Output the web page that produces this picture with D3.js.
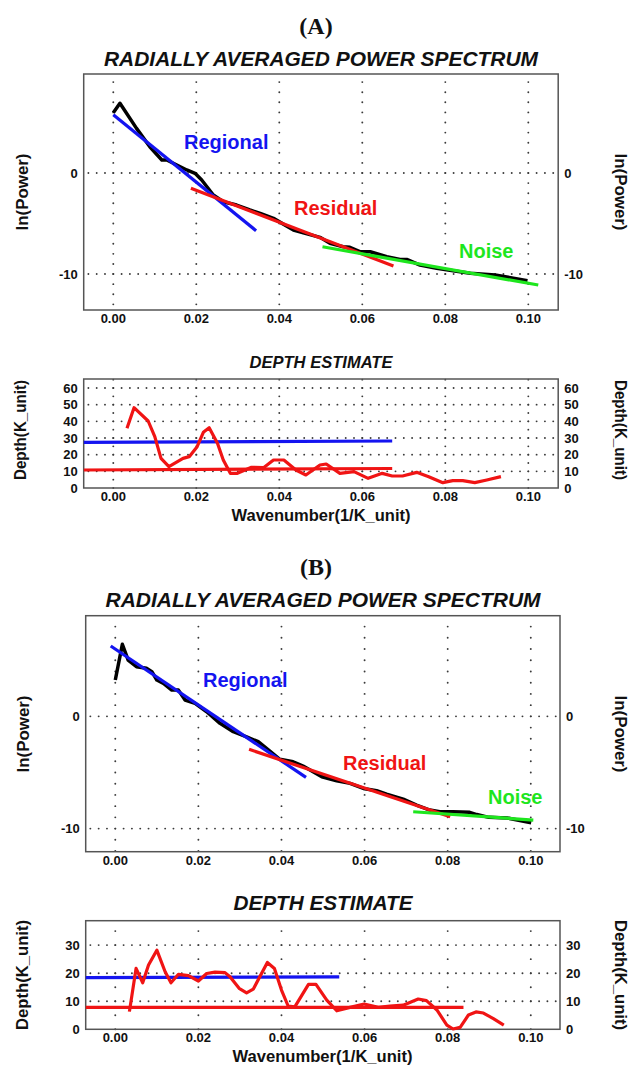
<!DOCTYPE html>
<html>
<head>
<meta charset="utf-8">
<script src="https://cdn.jsdelivr.net/npm/d3@7"></script>
<style>
  body { margin: 0; background: #fff; }
  svg text { font-family: "Liberation Sans", Arial, sans-serif; font-weight: bold; fill: #111; }
</style>
</head>
<body>
<svg id="fig" width="631" height="1067"></svg>
<script>
// ---- values ----
const xTicks = [0, 0.02, 0.04, 0.06, 0.08, 0.10]
const specTicks = [0, -10]
const depthTicksA = [0, 10, 20, 30, 40, 50, 60]
const depthTicksB = [0, 10, 20, 30]

// (A) radially averaged power spectrum
const specA_k = [0.0000, 0.0016, 0.0056, 0.0088, 0.0117, 0.0129, 0.0153, 0.0177, 0.0197, 0.0213, 0.0241, 0.0265, 0.0297, 0.0329, 0.0354, 0.0386, 0.0434, 0.0458, 0.0498, 0.0522, 0.0554, 0.0570, 0.0594, 0.0619, 0.0659, 0.0691, 0.0707, 0.0739, 0.0779, 0.0819, 0.0860, 0.0920, 0.0998]
const specA_lnP = [5.97, 6.90, 4.42, 2.60, 1.29, 1.29, 0.79, 0.30, -0.03, -0.69, -2.18, -2.84, -3.17, -3.66, -3.99, -4.49, -5.64, -5.91, -6.37, -6.96, -7.30, -7.36, -7.79, -7.79, -8.29, -8.55, -8.55, -9.11, -9.44, -9.67, -9.93, -10.10, -10.66]
const regionalA_k = [0.0000, 0.0344], regionalA_v = [5.77, -5.71]
const residualA_k = [0.0187, 0.0675], residualA_v = [-1.51, -9.21]
const noiseA_k = [0.0504, 0.1024], noiseA_v = [-7.30, -11.09]

// (A) depth estimate
const depthA_k = [0.0033, 0.0050, 0.0084, 0.0100, 0.0115, 0.0134, 0.0168, 0.0183, 0.0202, 0.0217, 0.0231, 0.0251, 0.0265, 0.0282, 0.0299, 0.0333, 0.0362, 0.0386, 0.0411, 0.0440, 0.0464, 0.0498, 0.0513, 0.0546, 0.0580, 0.0614, 0.0648, 0.0672, 0.0697, 0.0731, 0.0760, 0.0794, 0.0818, 0.0842, 0.0871, 0.0900, 0.0934]
const depthA_z = [35.8, 48.2, 40.2, 30.8, 17.8, 12.8, 17.8, 18.8, 24.8, 33.4, 36.2, 26.8, 16.8, 8.8, 8.8, 12.4, 12.2, 16.8, 16.8, 10.8, 7.8, 13.8, 14.4, 8.8, 9.8, 5.8, 8.8, 7.2, 7.2, 9.4, 6.8, 3.2, 4.4, 4.4, 3.2, 4.8, 6.8]
const depthRegA_k = [-0.0071, 0.0672], depthRegA_z = [27.4, 28.2]
const depthResA_k = [-0.0071, 0.0672], depthResA_z = [10.8, 11.7]

// (B) radially averaged power spectrum
const specB_k = [0.0000, 0.0017, 0.0031, 0.0051, 0.0075, 0.0088, 0.0100, 0.0116, 0.0136, 0.0152, 0.0168, 0.0192, 0.0220, 0.0252, 0.0284, 0.0316, 0.0344, 0.0372, 0.0396, 0.0428, 0.0452, 0.0497, 0.0533, 0.0565, 0.0597, 0.0629, 0.0653, 0.0693, 0.0725, 0.0757, 0.0781, 0.0813, 0.0853, 0.0870, 0.0899, 0.0943, 0.1001]
const specB_lnP = [3.24, 6.42, 5.02, 4.42, 4.28, 3.98, 3.24, 2.94, 2.34, 2.34, 1.45, 1.16, 0.41, -0.62, -1.37, -1.82, -2.26, -3.10, -3.83, -4.05, -4.43, -5.38, -5.74, -5.97, -6.42, -6.63, -6.93, -7.37, -7.90, -8.35, -8.50, -8.50, -8.55, -8.75, -9.00, -9.05, -9.48]
const regionalB_k = [-0.0011, 0.0459], regionalB_v = [6.27, -5.44]
const residualB_k = [0.0322, 0.0806], residualB_v = [-2.94, -8.95]
const noiseB_k = [0.0717, 0.1006], noiseB_v = [-8.50, -9.24]

// (B) depth estimate
const depthB_k = [0.0034, 0.0050, 0.0066, 0.0080, 0.0100, 0.0120, 0.0134, 0.0152, 0.0176, 0.0200, 0.0220, 0.0240, 0.0264, 0.0276, 0.0298, 0.0316, 0.0332, 0.0366, 0.0383, 0.0400, 0.0416, 0.0432, 0.0465, 0.0483, 0.0509, 0.0533, 0.0565, 0.0599, 0.0633, 0.0661, 0.0693, 0.0729, 0.0749, 0.0774, 0.0798, 0.0813, 0.0830, 0.0850, 0.0868, 0.0886, 0.0910, 0.0935]
const depthB_z = [6.3, 21.7, 16.6, 22.9, 28.2, 20.5, 16.6, 19.6, 19.1, 17.2, 19.9, 20.4, 20.2, 18.7, 14.6, 13.0, 14.3, 23.8, 21.7, 14.0, 8.3, 8.0, 16.0, 16.0, 10.4, 6.6, 7.8, 9.0, 7.8, 8.3, 8.6, 10.8, 10.2, 6.9, 1.5, 0.1, 0.7, 5.1, 6.2, 5.8, 3.8, 1.5]
const depthRegB_k = [-0.0071, 0.0539], depthRegB_z = [18.4, 18.7]
const depthResB_k = [-0.0071, 0.0838], depthResB_z = [7.8, 7.8]

const BLACK = '#000', BLUE = '#1414f0', RED = '#f01414', GREEN = '#1ee61e'

var svg = d3.select('#fig')

function panel(box, xDom, yDom, yTicks, yStep) {
  var x = d3.scaleLinear().domain(xDom).range([box.left, box.right])
  var y = d3.scaleLinear().domain(yDom).range([box.bottom, box.top])
  var g = svg.append('g')

  // dotted grid: rows of dots along major y, columns of dots along major x
  var dotsX = d3.range(Math.ceil(xDom[0] / 0.002 - 1e-6), Math.floor(xDom[1] / 0.002 + 1e-6) + 1).map(i => i * 0.002)
  var dotsY = d3.range(Math.ceil(yDom[0] / yStep - 1e-6), Math.floor(yDom[1] / yStep + 1e-6) + 1).map(i => i * yStep)
  var pts = []
  yTicks.filter(t => t > yDom[0] + 0.5).forEach(t => dotsX.forEach(k => pts.push([k, t])))
  xTicks.forEach(k => dotsY.forEach(v => pts.push([k, v])))
  g.selectAll('circle.dot').data(pts).join('circle')
    .attr('class', 'dot')
    .attr('cx', d => x(d[0]))
    .attr('cy', d => y(d[1]))
    .attr('r', 0.95)
    .attr('fill', '#3a3a3a')

  g.append('rect')
    .attr('x', box.left).attr('y', box.top)
    .attr('width', box.right - box.left).attr('height', box.bottom - box.top)
    .attr('fill', 'none').attr('stroke', '#555').attr('stroke-width', 1.5)

  g.selectAll('text.xt').data(xTicks).join('text')
    .attr('class', 'xt')
    .attr('x', d => x(d)).attr('y', box.bottom + 13)
    .attr('text-anchor', 'middle').attr('font-size', 13)
    .text(d3.format('.2f'))

  g.selectAll('text.yl').data(yTicks).join('text')
    .attr('class', 'yl')
    .attr('x', box.left - 6).attr('y', d => y(d) + 4.5)
    .attr('text-anchor', 'end').attr('font-size', 13)
    .text(d => d)

  g.selectAll('text.yr').data(yTicks).join('text')
    .attr('class', 'yr')
    .attr('x', box.right + 6).attr('y', d => y(d) + 4.5)
    .attr('text-anchor', 'start').attr('font-size', 13)
    .text(d => d)

  return {x, y, g}
}

function curve(p, ks, vs, color, w) {
  var line = d3.line().x(d => p.x(d[0])).y(d => p.y(d[1]))
  p.g.append('path')
    .attr('d', line(d3.zip(ks, vs)))
    .attr('fill', 'none')
    .attr('stroke', color)
    .attr('stroke-width', w)
    .attr('stroke-linejoin', 'round')
}

function label(txt, x, y, size, opts) {
  opts = opts || {}
  var t = svg.append('text')
    .attr('x', x).attr('y', y)
    .attr('font-size', size)
    .attr('text-anchor', opts.anchor || 'middle')
    .text(txt)
  if (opts.italic) t.attr('font-style', 'italic')
  if (opts.serif) t.style('font-family', '"Liberation Serif", "Times New Roman", serif')
  if (opts.fill) t.style('fill', opts.fill)
  if (opts.len) t.attr('textLength', opts.len).attr('lengthAdjust', 'spacingAndGlyphs')
  return t
}

function vlabel(txt, x, y, size, rot, len) {
  svg.append('text')
    .attr('transform', `translate(${x},${y}) rotate(${rot})`)
    .attr('font-size', size)
    .attr('text-anchor', 'middle')
    .attr('textLength', len).attr('lengthAdjust', 'spacingAndGlyphs')
    .text(txt)
}

// ================= (A) =================
label('(A)', 316, 34, 24, {serif: true})
label('RADIALLY AVERAGED POWER SPECTRUM', 321, 66, 20, {italic: true, len: 434})

var pA = panel({left: 83.7, right: 558.2, top: 74, bottom: 310}, [-0.00713, 0.1072], [-13.56, 9.8], specTicks, 1)
curve(pA, specA_k, specA_lnP, BLACK, 3.5)
curve(pA, regionalA_k, regionalA_v, BLUE, 3.2)
curve(pA, residualA_k, residualA_v, RED, 3.2)
curve(pA, noiseA_k, noiseA_v, GREEN, 3.2)
label('Regional', 184, 149, 20, {anchor: 'start', fill: BLUE})
label('Residual', 294, 215, 20, {anchor: 'start', fill: RED})
label('Noise', 459, 258, 20, {anchor: 'start', fill: GREEN})
vlabel('ln(Power)', 28, 192, 17, -90, 77)
vlabel('ln(Power)', 615, 192, 17, 90, 77)

label('DEPTH ESTIMATE', 321, 368, 16.5, {italic: true, len: 143})
var dA = panel({left: 83.7, right: 558.2, top: 379, bottom: 488}, [-0.00713, 0.1072], [0, 65.4], depthTicksA, 5)
curve(dA, depthRegA_k, depthRegA_z, BLUE, 3.2)
curve(dA, depthResA_k, depthResA_z, RED, 3.2)
curve(dA, depthA_k, depthA_z, RED, 3.2)
vlabel('Depth(K_unit)', 26, 430, 16, -90, 100)
vlabel('Depth(K_unit)', 615, 430, 16, 90, 100)
label('Wavenumber(1/K_unit)', 321, 521, 16, {len: 179})

// ================= (B) =================
label('(B)', 316, 575, 24, {serif: true})
label('RADIALLY AVERAGED POWER SPECTRUM', 323, 607, 20, {italic: true, len: 435})

var pB = panel({left: 85.7, right: 560, top: 615.7, bottom: 851.7}, [-0.00712, 0.10703], [-12.06, 8.97], specTicks, 1)
curve(pB, specB_k, specB_lnP, BLACK, 3.5)
curve(pB, regionalB_k, regionalB_v, BLUE, 3.2)
curve(pB, residualB_k, residualB_v, RED, 3.2)
curve(pB, noiseB_k, noiseB_v, GREEN, 3.2)
label('Regional', 203, 687, 20, {anchor: 'start', fill: BLUE})
label('Residual', 343, 770, 20, {anchor: 'start', fill: RED})
label('Noise', 488, 804, 20, {anchor: 'start', fill: GREEN})
vlabel('ln(Power)', 29, 734, 17, -90, 77)
vlabel('ln(Power)', 615, 734, 17, 90, 77)

label('DEPTH ESTIMATE', 323, 910, 20, {italic: true, len: 179})
var dB = panel({left: 85.7, right: 560, top: 920.7, bottom: 1029.3}, [-0.00712, 0.10703], [0, 38.7], depthTicksB, 5)
curve(dB, depthRegB_k, depthRegB_z, BLUE, 3.2)
curve(dB, depthResB_k, depthResB_z, RED, 3.2)
curve(dB, depthB_k, depthB_z, RED, 3.2)
vlabel('Depth(K_unit)', 28, 975, 16.5, -90, 110)
vlabel('Depth(K_unit)', 615, 975, 16.5, 90, 110)
label('Wavenumber(1/K_unit)', 322.5, 1062, 16, {len: 180})
</script>
</body>
</html>
